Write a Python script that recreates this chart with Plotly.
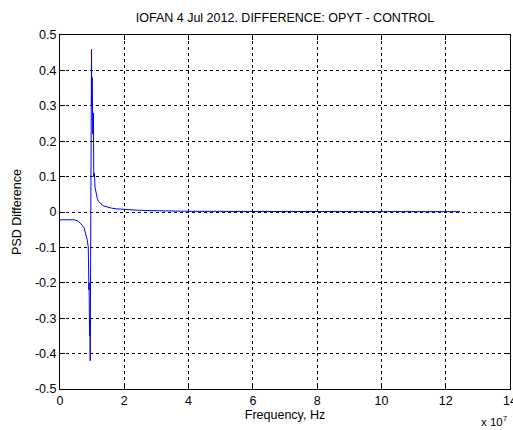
import plotly.graph_objects as go

# Frequency (Hz) and PSD difference
freq_hz = [0.0, 2.0e6, 4.5e6, 5.5e6, 6.5e6, 7.5e6, 8.0e6, 8.5e6, 8.8e6, 8.9e6, 9.0e6,
           9.05e6, 9.2e6, 9.3e6, 9.4e6, 9.5e6, 9.6e6, 9.65e6, 9.8e6, 9.9e6,
           1.0e7, 1.02e7, 1.04e7, 1.05e7, 1.07e7, 1.09e7, 1.12e7, 1.16e7, 1.2e7,
           1.25e7, 1.32e7, 1.4e7, 1.5e7, 1.6e7, 1.75e7, 1.9e7, 2.1e7, 2.4e7,
           2.8e7, 3.0e7, 3.1e7, 4.0e7, 6.0e7, 8.0e7, 1.0e8, 1.2e8, 1.245e8]
psd_diff = [-0.022, -0.022, -0.022, -0.025, -0.033, -0.045, -0.06, -0.08, -0.1, -0.13, -0.22,
            -0.2, -0.35, -0.3, -0.42, 0.0, 0.02, 0.0, 0.46, 0.3,
            0.38, 0.22, 0.28, 0.1, 0.11, 0.07, 0.05, 0.038, 0.03,
            0.024, 0.019, 0.016, 0.013, 0.011, 0.009, 0.008, 0.006, 0.005,
            0.004, 0.004, 0.002, 0.002, 0.0015, 0.0012, 0.001, 0.001, 0.001]

x_tick_vals = [0, 2e7, 4e7, 6e7, 8e7, 10e7, 12e7, 14e7]
x_tick_text = ["0", "2", "4", "6", "8", "10", "12", "14"]
y_tick_vals = [0.5, 0.4, 0.3, 0.2, 0.1, 0, -0.1, -0.2, -0.3, -0.4, -0.5]
y_tick_text = ["0.5", "0.4", "0.3", "0.2", "0.1", "0", "-0.1", "-0.2", "-0.3", "-0.4", "-0.5"]

font_family = "Liberation Sans, Arial, sans-serif"
fs = 12.5

fig = go.Figure()
fig.add_trace(go.Scatter(x=freq_hz, y=psd_diff, mode="lines",
                         line=dict(color="rgb(0,0,255)", width=1),
                         showlegend=False, hoverinfo="skip"))

axis_common = dict(showline=True, linecolor="black", linewidth=1, mirror="ticks",
                   ticks="inside", ticklen=5, tickcolor="black",
                   showgrid=True, gridcolor="black", gridwidth=1, griddash="3px,3px",
                   zeroline=False, ticklabeloverflow="allow", automargin=False,
                   tickfont=dict(family=font_family, size=fs, color="black"))

fig.update_xaxes(range=[0, 14e7], tickvals=x_tick_vals, ticktext=x_tick_text,
                 title=dict(text="Frequency, Hz", font=dict(family=font_family, size=fs, color="black"),
                            standoff=2),
                 **axis_common)
fig.update_yaxes(range=[-0.5, 0.5], tickvals=y_tick_vals, ticktext=y_tick_text,
                 title=dict(text="PSD Difference", font=dict(family=font_family, size=fs, color="black"),
                            standoff=10),
                 **axis_common)

fig.add_annotation(text="x 10<sup>7</sup>", xref="paper", yref="paper", x=1.0, y=-0.115,
                   xanchor="right", yanchor="bottom", showarrow=False,
                   font=dict(family=font_family, size=11.5, color="black"))

fig.update_layout(
    width=513, height=430,
    margin=dict(l=60, r=3, t=35, b=41),
    paper_bgcolor="white", plot_bgcolor="white",
    title=dict(text="IOFAN 4 Jul 2012. DIFFERENCE: OPYT - CONTROL",
               font=dict(family=font_family, size=fs, color="black"),
               x=0.5, xanchor="center", y=0.958, yanchor="middle", xref="paper"),
)

fig.write_html("out.html")
